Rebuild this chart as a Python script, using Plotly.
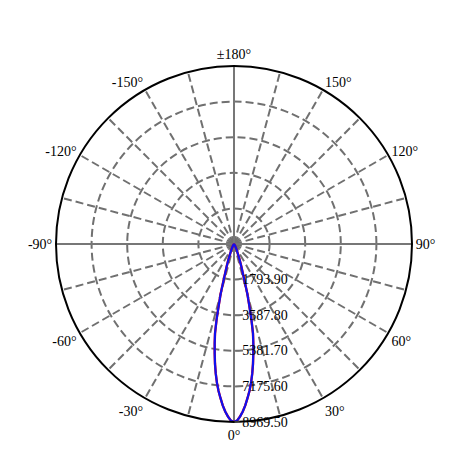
import plotly.graph_objects as go

# Luminous intensity distribution (cd) vs angle (deg)
angles_pos = [0, 1, 2, 3, 4, 5, 6, 7, 8, 9, 10, 11, 12, 13, 14, 15, 16, 18, 20, 25, 30, 35, 40, 50, 60, 90, 180]
intensity_pos = [8969.5, 8900, 8700, 8450, 8150, 7800, 7450, 7050, 6600, 6120, 5600, 5100, 4600, 3900, 3150, 2600, 1920, 1200, 800, 300, 120, 50, 20, 5, 0, 0, 0]

radial_ticks = [1793.9, 3587.8, 5381.7, 7175.6, 8969.5]
radial_labels = ["1793.90", "3587.80", "5381.70", "7175.60", "8969.50"]

angle_ticks = list(range(0, 360, 15))
def lab(a):
    if a % 30 != 0:
        return ""
    if a == 180:
        return "±180°"
    if a > 180:
        return f"{a - 360}°"
    return f"{a}°"
angle_labels = [lab(a) for a in angle_ticks]

theta = [-a for a in reversed(angles_pos)] + angles_pos[1:]
r = list(reversed(intensity_pos)) + intensity_pos[1:]

rmax = radial_ticks[-1]
serif = "Liberation Serif, Times New Roman, serif"

fig = go.Figure()
# axis cross lines
fig.add_trace(go.Scatterpolar(r=[rmax, 0, rmax], theta=[0, 0, 180], mode="lines",
                              line=dict(color="#777777", width=2), hoverinfo="skip", showlegend=False))
fig.add_trace(go.Scatterpolar(r=[rmax, 0, rmax], theta=[90, 90, -90], mode="lines",
                              line=dict(color="#777777", width=2), hoverinfo="skip", showlegend=False))
fig.add_trace(go.Scatterpolar(r=r, theta=theta, mode="lines",
                              line=dict(color="#ff0000", width=2.4), showlegend=False))
fig.add_trace(go.Scatterpolar(r=r, theta=theta, mode="lines",
                              line=dict(color="#1010ee", width=2.2), showlegend=False))

fig.update_layout(
    width=450, height=450,
    margin=dict(l=48, r=46, t=58, b=36),
    paper_bgcolor="white",
    font=dict(family=serif, size=14, color="black"),
    polar=dict(
        bgcolor="white",
        angularaxis=dict(
            rotation=-90, direction="counterclockwise",
            tickmode="array", tickvals=angle_ticks, ticktext=angle_labels,
            showgrid=True, gridcolor="#707070", gridwidth=2, griddash="8px,4px",
            showline=True, linecolor="black", linewidth=2,
            ticks="", tickfont=dict(family=serif, size=14),
        ),
        radialaxis=dict(
            range=[0, rmax], angle=-90, side="counterclockwise",
            tickmode="array", tickvals=radial_ticks, ticktext=radial_labels,
            showgrid=True, gridcolor="#707070", gridwidth=2, griddash="8px,4px",
            showline=False, ticks="outside", ticklen=5, tickcolor="#707070",
            tickangle=-90,
            tickfont=dict(family=serif, size=14),
        ),
    ),
)
fig.write_html("out.html")
